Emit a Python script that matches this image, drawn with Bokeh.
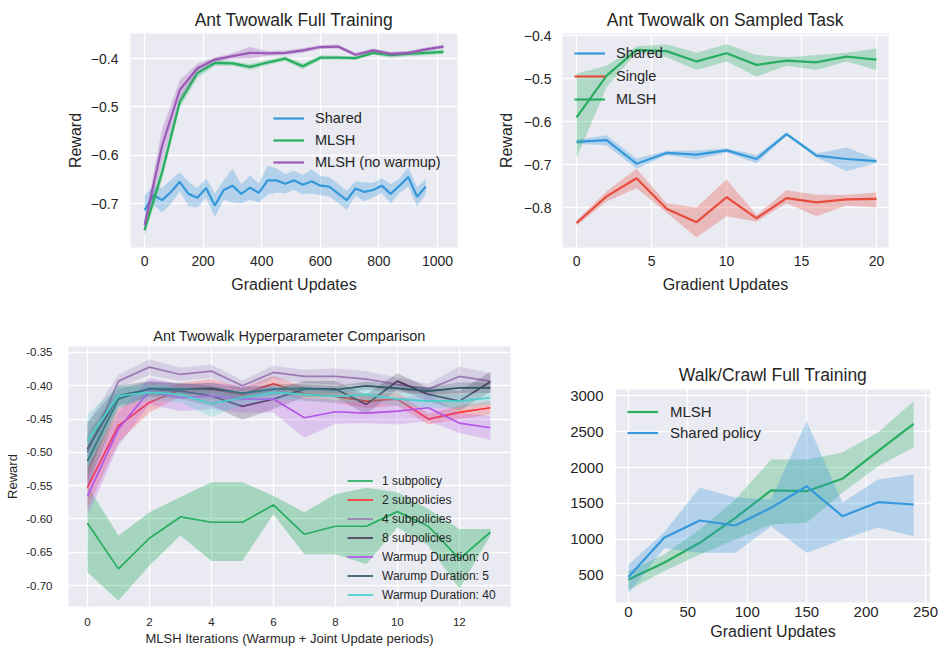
import math
from bokeh.plotting import figure
from bokeh.layouts import row, column
from bokeh.models import (FixedTicker, CustomJSTickFormatter, Legend, LegendItem, Range1d,
                          BoxAnnotation, Label)
from bokeh.embed import file_html
from bokeh.resources import INLINE

# ---------------- data ----------------
# Panel 1: Ant Twowalk Full Training
ft_shared_x = [0, 30, 60, 90, 120, 150, 180, 210, 240, 270, 300, 330, 360, 390, 420, 450, 480,
               510, 540, 570, 600, 630, 660, 690, 720, 750, 780, 810, 840, 870, 900, 930, 960]
ft_shared_y = [-0.714, -0.683, -0.693, -0.676, -0.655, -0.680, -0.688, -0.668, -0.704, -0.672,
               -0.663, -0.680, -0.667, -0.678, -0.652, -0.652, -0.659, -0.652, -0.661, -0.654,
               -0.663, -0.665, -0.679, -0.693, -0.669, -0.676, -0.672, -0.663, -0.680, -0.663,
               -0.645, -0.686, -0.665]
ft_shared_err = [0.030, 0.020, 0.025, 0.025, 0.020, 0.025, 0.020, 0.020, 0.025, 0.020,
                 0.035, 0.020, 0.025, 0.020, 0.030, 0.025, 0.020, 0.020, 0.020, 0.025,
                 0.020, 0.020, 0.020, 0.020, 0.015, 0.020, 0.015, 0.015, 0.020, 0.015,
                 0.020, 0.020, 0.015]
ft_mlsh_x = [0, 60, 120, 180, 240, 300, 360, 420, 480, 540, 600, 660, 720, 780, 840, 900, 960, 1020]
ft_mlsh_y = [-0.755, -0.635, -0.490, -0.430, -0.409, -0.410, -0.417, -0.408, -0.400, -0.416,
             -0.398, -0.398, -0.399, -0.388, -0.393, -0.390, -0.388, -0.386]
ft_mlsh_err = [0.012, 0.015, 0.012, 0.010, 0.006, 0.005, 0.006, 0.005, 0.005, 0.006,
               0.005, 0.004, 0.004, 0.004, 0.005, 0.005, 0.005, 0.005]
ft_nowarm_y = [-0.745, -0.580, -0.465, -0.420, -0.402, -0.395, -0.388, -0.389, -0.388, -0.383,
               -0.376, -0.375, -0.392, -0.383, -0.390, -0.388, -0.381, -0.375]
ft_nowarm_err = [0.012, 0.035, 0.020, 0.010, 0.005, 0.006, 0.012, 0.005, 0.005, 0.005,
                 0.004, 0.004, 0.004, 0.004, 0.004, 0.004, 0.004, 0.004]

# Panel 2: Ant Twowalk on Sampled Task
st_x = [0, 2, 4, 6, 8, 10, 12, 14, 16, 18, 20]
st_shared = [-0.647, -0.643, -0.698, -0.673, -0.677, -0.667, -0.687, -0.629, -0.679, -0.687, -0.692]
st_shared_lo = [-0.652, -0.655, -0.710, -0.678, -0.688, -0.672, -0.697, -0.633, -0.684, -0.715, -0.697]
st_shared_hi = [-0.642, -0.632, -0.686, -0.668, -0.667, -0.662, -0.678, -0.625, -0.674, -0.660, -0.687]
st_single = [-0.836, -0.774, -0.732, -0.803, -0.834, -0.776, -0.825, -0.778, -0.788, -0.781, -0.780]
st_single_lo = [-0.842, -0.786, -0.755, -0.812, -0.870, -0.820, -0.833, -0.790, -0.820, -0.795, -0.800]
st_single_hi = [-0.830, -0.762, -0.710, -0.790, -0.800, -0.735, -0.817, -0.760, -0.770, -0.770, -0.765]
st_mlsh = [-0.590, -0.493, -0.433, -0.436, -0.460, -0.441, -0.468, -0.458, -0.462, -0.449, -0.456]
st_mlsh_lo = [-0.684, -0.520, -0.440, -0.450, -0.480, -0.460, -0.495, -0.470, -0.480, -0.460, -0.480]
st_mlsh_hi = [-0.488, -0.470, -0.425, -0.420, -0.440, -0.420, -0.445, -0.450, -0.445, -0.440, -0.430]

# Panel 3: Ant Twowalk Hyperparameter Comparison
hp_x = [0, 1, 2, 3, 4, 5, 6, 7, 8, 9, 10, 11, 12, 13]
hp_1sub = [-0.606, -0.675, -0.629, -0.597, -0.605, -0.605, -0.579, -0.623, -0.611, -0.611, -0.589, -0.611, -0.660, -0.620]
hp_1sub_lo = [-0.680, -0.723, -0.670, -0.625, -0.663, -0.663, -0.593, -0.653, -0.653, -0.668, -0.613, -0.640, -0.705, -0.625]
hp_1sub_hi = [-0.550, -0.625, -0.590, -0.567, -0.545, -0.545, -0.565, -0.590, -0.563, -0.553, -0.560, -0.585, -0.615, -0.615]
hp_2sub = [-0.553, -0.460, -0.425, -0.406, -0.405, -0.413, -0.397, -0.412, -0.416, -0.423, -0.420, -0.450, -0.440, -0.433]
hp_2sub_err = [0.030, 0.025, 0.015, 0.010, 0.015, 0.010, 0.012, 0.010, 0.010, 0.010, 0.010, 0.008, 0.010, 0.010]
hp_4sub = [-0.500, -0.393, -0.372, -0.383, -0.378, -0.400, -0.380, -0.386, -0.386, -0.390, -0.398, -0.405, -0.386, -0.393]
hp_4sub_err = [0.045, 0.010, 0.012, 0.010, 0.010, 0.008, 0.010, 0.010, 0.012, 0.012, 0.010, 0.008, 0.015, 0.012]
hp_8sub = [-0.495, -0.415, -0.405, -0.408, -0.415, -0.431, -0.420, -0.405, -0.405, -0.428, -0.393, -0.413, -0.423, -0.394]
hp_8sub_err = [0.040, 0.015, 0.012, 0.012, 0.015, 0.020, 0.015, 0.012, 0.012, 0.015, 0.012, 0.010, 0.015, 0.015]
hp_w0 = [-0.566, -0.465, -0.408, -0.418, -0.415, -0.420, -0.420, -0.448, -0.439, -0.441, -0.438, -0.433, -0.456, -0.463]
hp_w0_err = [0.030, 0.025, 0.020, 0.020, 0.020, 0.020, 0.020, 0.030, 0.018, 0.015, 0.020, 0.020, 0.015, 0.018]
hp_w5 = [-0.513, -0.420, -0.404, -0.405, -0.404, -0.411, -0.405, -0.404, -0.406, -0.400, -0.404, -0.408, -0.403, -0.403]
hp_w5_err = [0.040, 0.015, 0.010, 0.008, 0.008, 0.008, 0.008, 0.006, 0.006, 0.006, 0.006, 0.006, 0.008, 0.008]
hp_w40 = [-0.483, -0.415, -0.410, -0.413, -0.427, -0.418, -0.410, -0.413, -0.416, -0.413, -0.420, -0.423, -0.423, -0.418]
hp_w40_err = [0.040, 0.015, 0.012, 0.012, 0.020, 0.010, 0.010, 0.010, 0.010, 0.010, 0.010, 0.010, 0.010, 0.010]
hp_labels = ["1 subpolicy", "2 subpolicies", "4 subpolicies", "8 subpolicies",
             "Warmup Duration: 0", "Warump Duration: 5", "Warmup Duration: 40"]

# Panel 4: Walk/Crawl Full Training
wc_x = [0, 30, 60, 90, 120, 150, 180, 210, 240]
wc_mlsh = [444, 676, 954, 1301, 1681, 1671, 1843, 2226, 2606]
wc_mlsh_lo = [300, 560, 790, 1000, 1208, 1231, 1650, 2018, 2278]
wc_mlsh_hi = [560, 792, 1139, 1555, 2111, 2111, 2208, 2486, 2921]
wc_shared = [480, 1024, 1264, 1194, 1440, 1740, 1324, 1518, 1486]
wc_shared_lo = [250, 880, 815, 815, 1185, 815, 1000, 1167, 1046]
wc_shared_hi = [650, 1100, 1718, 1583, 1555, 2643, 1514, 1833, 1903]

# ticks
ft_xticks = [0, 200, 400, 600, 800, 1000]
ft_yticks = [-0.7, -0.6, -0.5, -0.4]
st_xticks = [0, 5, 10, 15, 20]
st_yticks = [-0.8, -0.7, -0.6, -0.5, -0.4]
hp_xticks = [0, 2, 4, 6, 8, 10, 12]
hp_yticks = [-0.70, -0.65, -0.60, -0.55, -0.50, -0.45, -0.40, -0.35]
wc_xticks = [0, 50, 100, 150, 200, 250]
wc_yticks = [500, 1000, 1500, 2000, 2500, 3000]

# ---------------- style ----------------
FONT = "Liberation Sans"
BG = "#EAEAF2"
TXT = "#262626"
BLUE = "#3498db"
GREEN = "#27ae60"
PURPLE = "#9b59b6"
RED = "#e74c3c"
HP_COLORS = ["#27ae60", "#ff3333", "#9a7bb5", "#4b3a5c", "#b455e8", "#2c5868", "#48d1cc"]


def make_fig(title, xr, yr, fw, fh, ml, mr, mt, mb, tsize, tick_size, lab_size,
             xticks, yticks, xfmt, yfmt, xlabel, ylabel,
             xstand, xlabstand, ystand, ylabstand, tstand):
    p = figure(x_range=Range1d(*xr), y_range=Range1d(*yr), frame_width=fw, frame_height=fh,
               min_border_left=ml, min_border_right=mr, min_border_top=mt, min_border_bottom=mb,
               output_backend="svg", toolbar_location=None, title=title)
    p.background_fill_color = BG
    p.border_fill_color = "white"
    p.outline_line_color = None
    if title is not None:
        p.title.text_font = FONT
        p.title.text_font_size = tsize
        p.title.text_font_style = "normal"
        p.title.text_color = TXT
        p.title.align = "center"
        p.title.standoff = tstand
    for g in (p.xgrid, p.ygrid):
        g.grid_line_color = "white"
        g.grid_line_width = 1.3
    p.xaxis.ticker = FixedTicker(ticks=xticks)
    p.yaxis.ticker = FixedTicker(ticks=yticks)
    p.xaxis.formatter = CustomJSTickFormatter(code=xfmt)
    p.yaxis.formatter = CustomJSTickFormatter(code=yfmt)
    for ax in (p.xaxis, p.yaxis):
        ax.axis_line_color = None
        ax.major_tick_line_color = None
        ax.minor_tick_line_color = None
        ax.major_tick_out = 0
        ax.major_tick_in = 0
        ax.minor_tick_out = 0
        ax.minor_tick_in = 0
        ax.major_label_text_font = FONT
        ax.major_label_text_font_size = tick_size
        ax.major_label_text_color = TXT
        ax.axis_label_text_font = FONT
        ax.axis_label_text_font_size = lab_size
        ax.axis_label_text_font_style = "normal"
        ax.axis_label_text_color = TXT
    p.xaxis.axis_label = xlabel
    if ylabel:
        p.yaxis.axis_label = ylabel
    p.xaxis.major_label_standoff = xstand
    p.xaxis.axis_label_standoff = xlabstand
    p.yaxis.major_label_standoff = ystand
    p.yaxis.axis_label_standoff = ylabstand
    return p


def band(p, x, lo, hi, color, alpha):
    p.varea(x=x, y1=lo, y2=hi, fill_color=color, fill_alpha=alpha)


def add_legend(p, items, loc, size, gw, gh, spacing, standoff):
    leg = Legend(items=[LegendItem(label=l, renderers=[r]) for l, r in items], location=loc)
    leg.border_line_color = None
    leg.background_fill_alpha = 0
    leg.padding = 0
    leg.margin = 0
    leg.spacing = spacing
    leg.glyph_width = gw
    leg.glyph_height = gh
    leg.label_height = gh
    leg.label_standoff = standoff
    leg.label_text_font = FONT
    leg.label_text_font_size = size
    leg.label_text_color = TXT
    p.add_layout(leg)


MINUS1 = "return tick.toFixed(1).replace('-', '\\u2212');"
INT0 = "return tick.toFixed(0);"
FIX2 = "return tick.toFixed(2);"

# ---------------- panel 1 ----------------
p1 = make_fig("Ant Twowalk Full Training", (-48, 1068), (-0.791, -0.348), 327, 214, 130, 13, 33, 62,
              "17.5px", "14px", "16px", ft_xticks, ft_yticks, INT0, MINUS1,
              "Gradient Updates", "Reward", 8, 7, 12, 4, 8)
band(p1, ft_shared_x, [a - e for a, e in zip(ft_shared_y, ft_shared_err)],
     [a + e for a, e in zip(ft_shared_y, ft_shared_err)], BLUE, 0.3)
r1a = p1.line(ft_shared_x, ft_shared_y, line_color=BLUE, line_width=2.2)
band(p1, ft_mlsh_x, [a - e for a, e in zip(ft_mlsh_y, ft_mlsh_err)],
     [a + e for a, e in zip(ft_mlsh_y, ft_mlsh_err)], GREEN, 0.3)
r1b = p1.line(ft_mlsh_x, ft_mlsh_y, line_color=GREEN, line_width=2.2)
band(p1, ft_mlsh_x, [a - e for a, e in zip(ft_nowarm_y, ft_nowarm_err)],
     [a + e for a, e in zip(ft_nowarm_y, ft_nowarm_err)], PURPLE, 0.3)
r1c = p1.line(ft_mlsh_x, ft_nowarm_y, line_color=PURPLE, line_width=2.2)
add_legend(p1, [("Shared", r1a), ("MLSH", r1b), ("MLSH (no warmup)", r1c)],
           (143, 75), "14.5px", 31, 20, 2, 11)

# ---------------- panel 2 ----------------
p2 = make_fig("Ant Twowalk on Sampled Task", (-0.94, 20.8), (-0.893, -0.395), 326, 214, 92, 50, 33, 62,
              "17.5px", "14px", "16px", st_xticks, st_yticks, INT0, MINUS1,
              "Gradient Updates", "Reward", 8, 7, 11, 6, 8)
band(p2, st_x, st_shared_lo, st_shared_hi, BLUE, 0.3)
r2a = p2.line(st_x, st_shared, line_color=BLUE, line_width=2.2)
band(p2, st_x, st_single_lo, st_single_hi, RED, 0.3)
r2b = p2.line(st_x, st_single, line_color=RED, line_width=2.2)
band(p2, st_x, st_mlsh_lo, st_mlsh_hi, GREEN, 0.3)
r2c = p2.line(st_x, st_mlsh, line_color=GREEN, line_width=2.2)
add_legend(p2, [("Shared", r2a), ("Single", r2b), ("MLSH", r2c)],
           (12, 138), "14.5px", 31, 20, 3, 11)

# ---------------- panel 3 ----------------
p3 = make_fig("Ant Twowalk Hyperparameter Comparison", (-0.61, 13.65), (-0.7315, -0.341), 442, 260, 68, 10, 37, 44,
              "14.5px", "11.5px", "13px", hp_xticks, hp_yticks, INT0, FIX2,
              "MLSH Iterations (Warmup + Joint Update periods)", "Reward", 11, 2, 16, 3, 6)
hp_series = [
    (hp_1sub, hp_1sub_lo, hp_1sub_hi),
    (hp_2sub, None, hp_2sub_err),
    (hp_4sub, None, hp_4sub_err),
    (hp_8sub, None, hp_8sub_err),
    (hp_w0, None, hp_w0_err),
    (hp_w5, None, hp_w5_err),
    (hp_w40, None, hp_w40_err),
]
hp_renderers = []
for (ys, lo, hi), col in zip(hp_series, HP_COLORS):
    if lo is None:
        err = hi
        lo = [a - e for a, e in zip(ys, err)]
        hi = [a + e for a, e in zip(ys, err)]
        band(p3, hp_x, lo, hi, col, 0.25)
    else:
        band(p3, hp_x, lo, hi, col, 0.35)
    hp_renderers.append(p3.line(hp_x, ys, line_color=col, line_width=1.7))
add_legend(p3, list(zip(hp_labels, hp_renderers)), (279, 3), "12px", 26, 17, 2, 9)

# ---------------- panel 4 ----------------
# frame is taller than the shaded data area (row alignment); the shaded area is a box annotation
p4 = make_fig(None, (-10.9, 254.2), (69.4, 3680.6), 315, 260, 95, 8, 37, 44,
              "17.5px", "15px", "16px", wc_xticks, wc_yticks, INT0, INT0,
              "Gradient Updates", None, 0, 3, 12, 3, 4)
p4.background_fill_color = "white"
p4.add_layout(BoxAnnotation(bottom=125, top=3083.3, fill_color=BG, fill_alpha=1.0,
                            line_color=None, level="image"))
band(p4, wc_x, wc_mlsh_lo, wc_mlsh_hi, GREEN, 0.3)
r4a = p4.line(wc_x, wc_mlsh, line_color=GREEN, line_width=2.2)
band(p4, wc_x, wc_shared_lo, wc_shared_hi, BLUE, 0.3)
r4b = p4.line(wc_x, wc_shared, line_color=BLUE, line_width=2.2)
add_legend(p4, [("MLSH", r4a), ("Shared policy", r4b)], (12, 164), "15px", 31, 19, 2, 12)
p4.add_layout(Label(x=157.5, y=232, x_units="screen", y_units="screen", text="Walk/Crawl Full Training",
                    text_font=FONT, text_font_size="17.5px", text_color=TXT,
                    text_align="center", text_baseline="middle"))
p4.add_layout(Label(x=-57, y=109, x_units="screen", y_units="screen", text="Reward", angle=math.pi / 2,
                    text_font=FONT, text_font_size="16px", text_color=TXT,
                    text_align="center", text_baseline="middle"))

layout = column(row(p1, p2), row(p3, p4))
open("out.html", "w").write(file_html(layout, INLINE))
